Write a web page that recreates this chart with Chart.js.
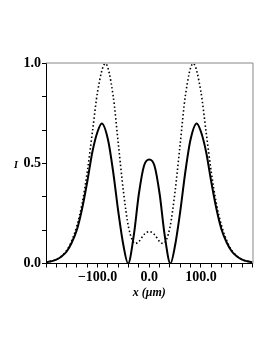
<html>
  <head>
    <script src="https://cdn.jsdelivr.net/npm/chart.js"></script>
    <style>
      body { margin: 0; background: #fff; }
      #chart_div { width: 273px; height: 353px; }
    </style>
  </head>
  <body>
    <div id="chart_div"><canvas id="intensityChart" width="273" height="353"></canvas></div>
    <script>
      // x in micrometres
      var xSolid = [-200, -190, -180, -170, -160, -150, -140, -130, -120, -110, -100, -92, -80, -70, -60, -50, -41, -30, -20, -10, 0,
                    10, 20, 30, 41, 50, 60, 70, 80, 92, 100, 110, 120, 130, 140, 150, 160, 170, 180, 190, 200];
      var ySolid = [0.006, 0.011, 0.019, 0.035, 0.060, 0.105, 0.17, 0.275, 0.41, 0.56, 0.66, 0.70, 0.62, 0.46, 0.26, 0.09, 0.0, 0.14, 0.35, 0.49, 0.52,
                    0.49, 0.35, 0.14, 0.0, 0.09, 0.26, 0.46, 0.62, 0.70, 0.66, 0.56, 0.41, 0.275, 0.17, 0.105, 0.060, 0.035, 0.019, 0.011, 0.006];

      var xDotted = [-200, -190, -180, -170, -160, -150, -140, -130, -120, -110, -100, -85, -70, -60, -50, -40, -27, -20, -10, 0,
                     10, 20, 27, 40, 50, 60, 70, 85, 100, 110, 120, 130, 140, 150, 160, 170, 180, 190, 200];
      var yDotted = [0.006, 0.011, 0.020, 0.037, 0.065, 0.115, 0.19, 0.30, 0.46, 0.66, 0.86, 1.0, 0.84, 0.60, 0.36, 0.18, 0.10, 0.11, 0.145, 0.16,
                     0.145, 0.11, 0.10, 0.18, 0.36, 0.60, 0.84, 1.0, 0.86, 0.66, 0.46, 0.30, 0.19, 0.115, 0.065, 0.037, 0.020, 0.011, 0.006];

      var xLabels = [-100, 0, 100];
      var yLabels = [0, 0.5, 1.0];

      function pts(xs, ys) {
        return xs.map(function (x, i) { return { x: x, y: ys[i] }; });
      }

      var serif = "'Liberation Serif', 'Times New Roman', serif";
      var tickFont = { family: serif, size: 14, weight: 'bold' };

      var extraText = {
        id: 'extraText',
        afterDraw: function (chart) {
          var ctx = chart.ctx, a = chart.chartArea;
          ctx.save();
          // box: top and right edges
          ctx.strokeStyle = '#888';
          ctx.lineWidth = 1;
          ctx.beginPath();
          ctx.moveTo(a.left, a.top - 0.5);
          ctx.lineTo(a.right + 0.5, a.top - 0.5);
          ctx.lineTo(a.right + 0.5, a.bottom);
          ctx.stroke();
          // y title, not rotated
          ctx.fillStyle = '#000';
          ctx.font = 'italic bold 10px ' + serif;
          ctx.textAlign = 'center';
          ctx.textBaseline = 'middle';
          ctx.fillText('I', 16, 165);
          ctx.restore();
        }
      };

      new Chart(document.getElementById('intensityChart'), {
        type: 'line',
        data: {
          datasets: [{
            data: pts(xDotted, yDotted),
            borderColor: '#000',
            borderWidth: 1.6,
            borderDash: [1.5, 2.4],
            pointRadius: 0,
            cubicInterpolationMode: 'monotone'
          }, {
            data: pts(xSolid, ySolid),
            borderColor: '#000',
            borderWidth: 2,
            pointRadius: 0,
            cubicInterpolationMode: 'monotone'
          }]
        },
        options: {
          responsive: false,
          animation: false,
          layout: { padding: { left: 0, top: 63.5, right: 20.5, bottom: 53 } },
          plugins: { legend: { display: false }, tooltip: { enabled: false } },
          scales: {
            x: {
              type: 'linear',
              min: -200,
              max: 200,
              afterFit: function (s) { s.height = 36.5; },
              border: { color: '#000', width: 1 },
              grid: { drawOnChartArea: false, tickLength: 4, color: '#000' },
              ticks: {
                stepSize: 20,
                autoSkip: false,
                maxRotation: 0,
                padding: 1,
                color: '#000',
                font: tickFont,
                callback: function (v) {
                  return xLabels.indexOf(v) >= 0 ? (v < 0 ? '\u2212' + Math.abs(v).toFixed(1) : v.toFixed(1)) : '';
                }
              },
              title: {
                display: true,
                text: 'x (\u03bcm)',
                color: '#000',
                padding: 0,
                font: { family: serif, size: 12, style: 'italic', weight: 'bold' }
              }
            },
            y: {
              min: 0,
              max: 1,
              afterFit: function (s) { s.width = 46; },
              border: { color: '#000', width: 1 },
              grid: { drawOnChartArea: false, tickLength: 4, color: '#000' },
              ticks: {
                stepSize: 1 / 6,
                autoSkip: false,
                padding: 1,
                color: '#000',
                font: tickFont,
                callback: function (v) {
                  for (var i = 0; i < yLabels.length; i++) {
                    if (Math.abs(v - yLabels[i]) < 1e-6) return yLabels[i].toFixed(1);
                  }
                  return '';
                }
              }
            }
          }
        },
        plugins: [extraText]
      });
    </script>
  </body>
</html>
